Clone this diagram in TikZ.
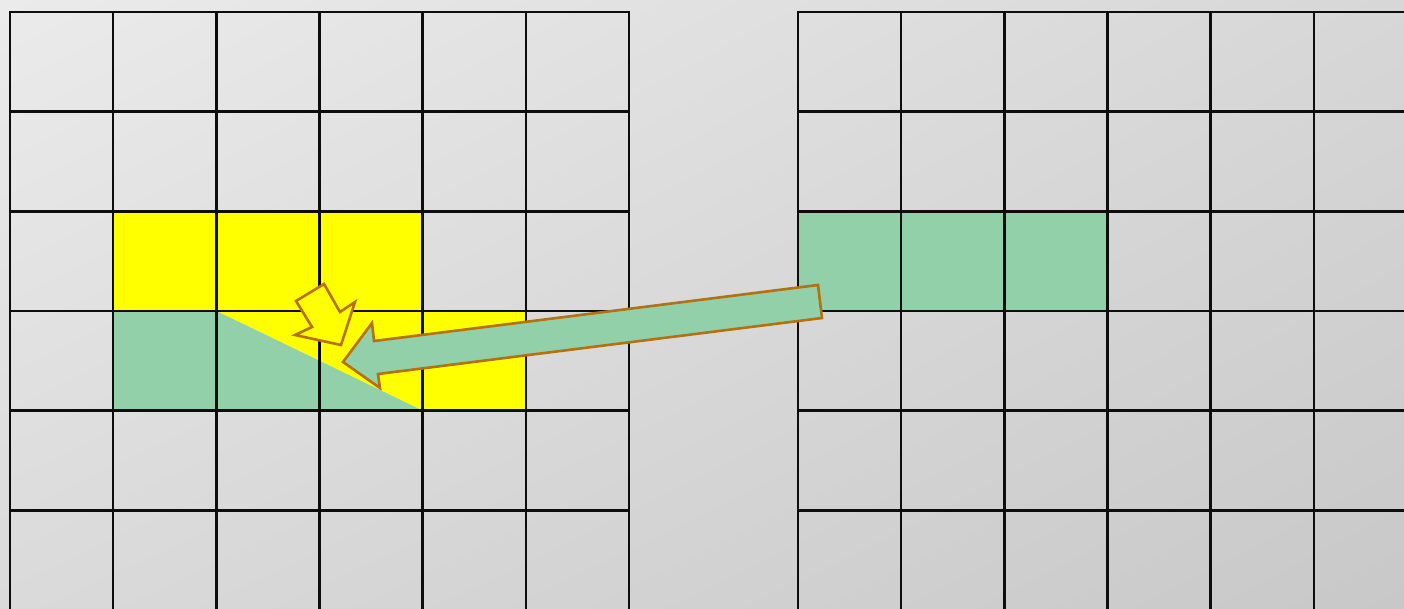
\documentclass[tikz,border=0pt]{standalone}
\usetikzlibrary{shadings}
\definecolor{bgA}{HTML}{EBEBEB}
\definecolor{bgB}{HTML}{D7D7D7}
\definecolor{bgC}{HTML}{DADADA}
\definecolor{bgD}{HTML}{C8C8C8}
\definecolor{cellyellow}{HTML}{FFFF00}
\definecolor{cellgreen}{HTML}{92D0AA}
\definecolor{arrowborder}{HTML}{B5700F}
\tikzset{
  gridline/.style={line width=2.6pt, draw=black!95, line cap=rect},
  bigarrow/.style={fill=cellgreen, draw=arrowborder, line width=2.6pt, line join=miter},
  smallarrow/.style={fill=cellyellow, draw=arrowborder, line width=2.6pt, line join=miter}
}
\begin{document}
\begin{tikzpicture}[x=1pt,y=-1pt]
\useasboundingbox (0,0) rectangle (1404,608);
\shade[upper left=bgA, upper right=bgB, lower left=bgC, lower right=bgD] (0,0) rectangle (1404,608);
% coordinates of grid lines
\def\dx{103.17}
\def\dy{99.67}
% fills on left grid
\fill[cellyellow] (113.17,211.34) rectangle (422.68,311.01);
\fill[cellyellow] (216.34,311.01) -- (525.85,311.01) -- (525.85,410.68) -- (422.68,410.68) -- cycle;
\fill[cellgreen] (113.17,311.01) -- (216.34,311.01) -- (422.68,410.68) -- (113.17,410.68) -- cycle;
% fill on right grid
\fill[cellgreen] (798,211.34) rectangle (1107.51,311.01);
% left grid
\foreach \i in {0,...,6} {
  \draw[gridline] ({10+\i*\dx},12) -- ({10+\i*\dx},612);
}
\foreach \j in {0,...,5} {
  \draw[gridline] (10,{12+\j*\dy}) -- (629,{12+\j*\dy});
}
% right grid
\foreach \i in {0,...,5} {
  \draw[gridline] ({798+\i*\dx},12) -- ({798+\i*\dx},612);
}
\foreach \j in {0,...,5} {
  \draw[gridline] (798,{12+\j*\dy}) -- (1410,{12+\j*\dy});
}
% big arrow
\draw[bigarrow] (343,362) -- (372,323) -- (374,341) -- (818,285) -- (822,318) -- (378,374) -- (380,388) -- cycle;
% small arrow
\draw[smallarrow] (296,301) -- (324,284) -- (340,312) -- (355,302) -- (341,345) -- (295,335) -- (312,327) -- cycle;
\end{tikzpicture}
\end{document}
